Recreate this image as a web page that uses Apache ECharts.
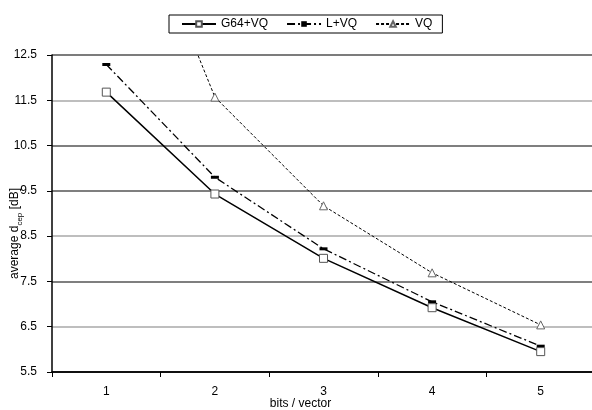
<!DOCTYPE html>
<html>
<head>
<meta charset="utf-8">
<script src="https://cdn.jsdelivr.net/npm/echarts@6/dist/echarts.min.js"></script>
<style>
  html, body { margin: 0; padding: 0; background: #fff; }
  #chart { width: 592px; height: 410px; }
</style>
</head>
<body>
<div id="chart"></div>
<script>
// bits per vector
const categories = ['1', '2', '3', '4', '5']
// average cepstral distance [dB]
const g64vq = [11.68, 9.43, 8.01, 6.92, 5.95]
const lvq = [12.29, 9.8, 8.22, 7.05, 6.07]
const vq = [17.5, 11.57, 9.17, 7.69, 6.54]

const font = 'Liberation Sans, Arial, sans-serif'
const chart = echarts.init(document.getElementById('chart'))

chart.setOption({
  backgroundColor: '#fff',
  animation: false,
  textStyle: { fontFamily: font, color: '#000' },
  legend: {
    left: 169,
    top: 15,
    padding: [3, 10, 3, 12],
    itemGap: 18,
    itemWidth: 34,
    itemHeight: 7,
    borderColor: '#000',
    borderWidth: 1,
    textStyle: { fontFamily: font, fontSize: 12, color: '#000' },
    data: ['G64+VQ', 'L+VQ', 'VQ'],
  },
  grid: { left: 52, top: 55, width: 543, height: 317, outerBoundsMode: 'none', containLabel: false },
  xAxis: {
    type: 'category',
    data: categories,
    boundaryGap: true,
    name: 'bits / vector',
    nameLocation: 'middle',
    nameGap: 26,
    nameMoveOverlap: false,
    nameTextStyle: { fontFamily: font, fontSize: 12, color: '#000', padding: [0, 46, 0, 0] },
    axisLine: { lineStyle: { color: '#000', width: 1.5 } },
    axisTick: { show: true, length: 5, lineStyle: { color: '#000' } },
    axisLabel: { fontFamily: font, fontSize: 12, color: '#000', margin: 14 },
  },
  yAxis: {
    type: 'value',
    min: 5.5,
    max: 12.5,
    interval: 1,
    name: 'average d{sub|cep} [dB]',
    nameLocation: 'middle',
    nameGap: 31,
    nameMoveOverlap: false,
    nameTextStyle: {
      fontFamily: font,
      fontSize: 12,
      color: '#000',
      padding: [0, 40, 0, 0],
      rich: {
        sub: { fontFamily: font, fontSize: 8, color: '#000', verticalAlign: 'bottom', padding: [0, 0, -3, 0] },
      },
    },
    axisLine: { show: true, lineStyle: { color: '#000', width: 1.5 } },
    axisTick: { show: true, length: 5, lineStyle: { color: '#000' } },
    axisLabel: { fontFamily: font, fontSize: 12, color: '#000', margin: 15 },
    splitLine: {
      show: true,
      lineStyle: {
        width: 1.5,
        color: ['#000', '#a8a8a8', '#555', '#a8a8a8', '#555', '#555', '#a8a8a8', '#505050'],
      },
    },
  },
  series: [
    {
      name: 'G64+VQ',
      type: 'line',
      data: g64vq,
      symbol: 'rect',
      symbolSize: 8,
      itemStyle: { color: '#fff', borderColor: '#555', borderWidth: 1 },
      lineStyle: { color: '#000', width: 1.5, type: 'solid' },
      z: 3,
    },
    {
      name: 'L+VQ',
      type: 'line',
      data: lvq,
      symbol: 'rect',
      symbolSize: [8, 3],
      itemStyle: { color: '#000', borderWidth: 0 },
      lineStyle: { color: '#000', width: 1.3, type: [8, 3, 2, 3] },
      z: 2,
    },
    {
      name: 'VQ',
      type: 'line',
      data: vq,
      symbol: 'triangle',
      symbolSize: 8,
      itemStyle: { color: '#fff', borderColor: '#666', borderWidth: 1 },
      lineStyle: { color: '#000', width: 1, type: [3, 2] },
      z: 1,
    },
  ],
})
</script>
</body>
</html>
